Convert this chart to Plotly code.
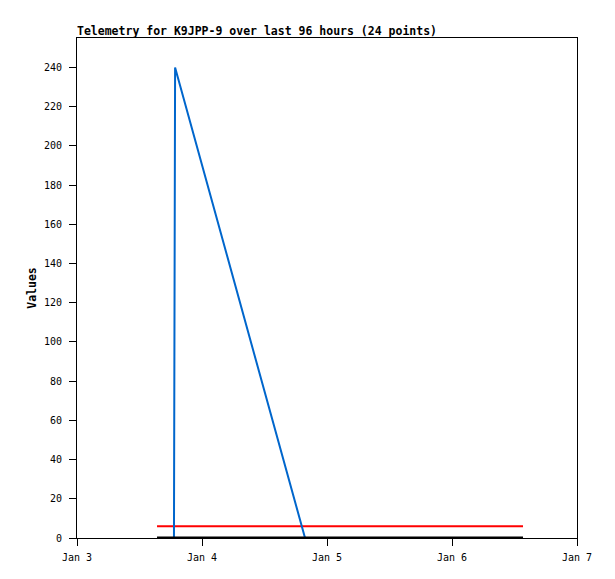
import plotly.graph_objects as go

title_text = "Telemetry for K9JPP-9 over last 96 hours (24 points)"
y_label = "Values"

blue_times = ["2024-01-03 18:37", "2024-01-03 18:40", "2024-01-03 18:50", "2024-01-04 19:47"]
blue_values = [0, 120, 240, 0]

red_times = ["2024-01-03 15:22", "2024-01-06 13:38"]
red_values = [6, 6]

black_times = ["2024-01-03 15:22", "2024-01-06 13:38"]
black_values = [0, 0]

x_tick_vals = ["2024-01-03", "2024-01-04", "2024-01-05", "2024-01-06", "2024-01-07"]
x_tick_text = ["Jan 3", "Jan 4", "Jan 5", "Jan 6", "Jan 7"]
y_tick_vals = list(range(0, 241, 20))

mono = "DejaVu Sans Mono"

fig = go.Figure()
fig.add_trace(go.Scatter(x=red_times, y=red_values, mode="lines",
                         line=dict(color="#ff0000", width=2), showlegend=False))
fig.add_trace(go.Scatter(x=blue_times, y=blue_values, mode="lines",
                         line=dict(color="#0066cc", width=2), showlegend=False))
fig.add_trace(go.Scatter(x=black_times, y=black_values, mode="lines",
                         line=dict(color="#000000", width=3), showlegend=False))

# page has an 8px body margin, so margins are offset to place the plot box at 77..577 x 38..538
fig.update_layout(
    width=615, height=579,
    margin=dict(l=69, r=46, t=30, b=49, autoexpand=False),
    paper_bgcolor="white", plot_bgcolor="white",
    title=dict(text="<b>" + title_text + "</b>", x=0, xref="paper", xanchor="left",
               y=1, yref="paper", yanchor="bottom", pad=dict(b=3, l=0),
               font=dict(family=mono, size=11.5, color="black")),
    xaxis=dict(type="date", range=["2024-01-03", "2024-01-07"],
               tickvals=x_tick_vals, ticktext=x_tick_text,
               ticks="outside", ticklen=7, tickcolor="black", tickwidth=1,
               showline=True, linecolor="black", linewidth=1, mirror=True,
               showgrid=False, zeroline=False, automargin=False,
               ticklabelstandoff=3,
               tickfont=dict(family=mono, size=10, color="black")),
    yaxis=dict(range=[0, 255], tickvals=y_tick_vals,
               ticks="outside", ticklen=7, tickcolor="black", tickwidth=1,
               showline=True, linecolor="black", linewidth=1, mirror=True,
               showgrid=False, zeroline=False, automargin=False,
               ticklabelstandoff=5,
               title=dict(text="<b>" + y_label + "</b>", standoff=4,
                          font=dict(family=mono, size=11.5, color="black")),
               tickfont=dict(family=mono, size=10, color="black")),
)

fig.write_html("out.html")
